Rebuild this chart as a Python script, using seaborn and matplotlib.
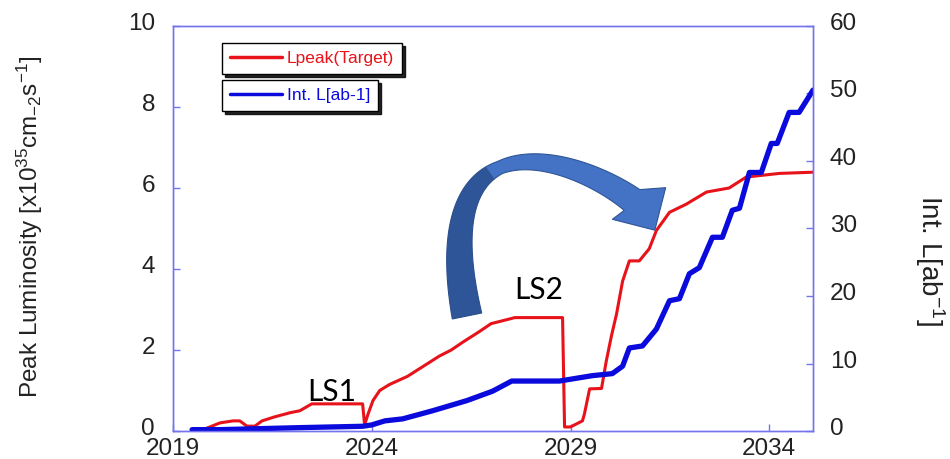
import numpy as np
import pandas as pd
import matplotlib
matplotlib.use("Agg")
import matplotlib.pyplot as plt
import matplotlib.transforms as mtransforms
import seaborn as sns
from matplotlib.lines import Line2D
from matplotlib.patches import Polygon

# Peak luminosity target [x10^35 cm^-2 s^-1]
peak_year = [2019.48, 2019.80, 2020.18, 2020.51, 2020.68, 2020.86, 2021.06, 2021.24,
             2021.56, 2021.94, 2022.19, 2022.49, 2023.77, 2023.82, 2023.90, 2024.03,
             2024.20, 2024.45, 2024.90, 2025.30, 2025.70, 2026.00, 2026.30, 2026.70,
             2027.00, 2027.40, 2027.60, 2028.80, 2028.85, 2029.00, 2029.30, 2029.35,
             2029.48, 2029.78, 2029.90, 2030.03, 2030.16, 2030.31, 2030.48, 2030.73,
             2030.98, 2031.16, 2031.49, 2031.91, 2032.42, 2032.99, 2033.42, 2034.25,
             2035.10]
peak_lumi = [0.00, 0.05, 0.20, 0.25, 0.25, 0.12, 0.12, 0.25,
             0.35, 0.45, 0.50, 0.67, 0.67, 0.15, 0.40, 0.75,
             1.00, 1.15, 1.35, 1.60, 1.85, 2.00, 2.20, 2.45,
             2.65, 2.75, 2.80, 2.80, 0.10, 0.10, 0.25, 0.42,
             1.04, 1.05, 1.73, 2.35, 2.90, 3.70, 4.20, 4.20,
             4.50, 4.95, 5.40, 5.60, 5.90, 6.00, 6.27, 6.36,
             6.39]

# Integrated luminosity [ab^-1]
int_year = [2019.48, 2020.18, 2022.20, 2023.77, 2024.00, 2024.33, 2024.78, 2025.53,
            2026.39, 2027.04, 2027.52, 2028.72, 2029.55, 2030.05, 2030.31, 2030.48,
            2030.81, 2031.16, 2031.49, 2031.74, 2031.99, 2032.24, 2032.57, 2032.82,
            2033.07, 2033.25, 2033.50, 2033.80, 2034.05, 2034.20, 2034.50, 2034.75,
            2035.10]
int_lumi = [0.2, 0.2, 0.5, 0.7, 0.9, 1.5, 1.8, 3.0,
            4.5, 5.9, 7.4, 7.4, 8.2, 8.5, 9.6, 12.3,
            12.6, 15.1, 19.3, 19.6, 23.3, 24.2, 28.7, 28.7,
            32.7, 33.0, 38.3, 38.3, 42.6, 42.6, 47.2, 47.2,
            50.5]

year_ticks = [2019, 2024, 2029, 2034]
peak_ticks = [0, 2, 4, 6, 8, 10]
int_ticks = [0, 10, 20, 30, 40, 50, 60]

RED = "#E8121A"
BLUE = "#0A0ADC"
FRAME = "#7474EE"
TXT = "#222222"

sns.set_theme(style="white")
plt.rcParams["font.family"] = ["Liberation Sans", "DejaVu Sans"]
plt.rcParams["mathtext.default"] = "regular"

fig = plt.figure(figsize=(9.5, 4.59), dpi=100)
ax = fig.add_axes([173 / 950, 1 - 431 / 459, 640 / 950, 405 / 459])
ax2 = ax.twinx()

peak_df = pd.DataFrame({"year": peak_year, "lumi": peak_lumi})
int_df = pd.DataFrame({"year": int_year, "lumi": int_lumi})

sns.lineplot(data=peak_df, x="year", y="lumi", ax=ax, color=RED, linewidth=2.2,
             sort=False, estimator=None)
sns.lineplot(data=int_df, x="year", y="lumi", ax=ax2, color=BLUE, linewidth=3.8,
             sort=False, estimator=None)

ax.set_xlim(2019, 2035.1)
ax.set_ylim(0, 10)
ax2.set_ylim(0, 60)
ax.set_xticks(year_ticks)
ax.set_yticks(peak_ticks)
ax2.set_yticks(int_ticks)
ax.set_xlabel("")

for a in (ax, ax2):
    for sp in a.spines.values():
        sp.set_color(FRAME)
        sp.set_linewidth(1.0)
        sp.set_visible(True)

ax.tick_params(axis="y", direction="in", length=5, width=1, color=FRAME,
               labelsize=17.5, labelcolor=TXT, pad=13, left=True)
ax.tick_params(axis="x", direction="in", length=5, width=1, color=FRAME,
               labelsize=17.5, labelcolor=TXT, pad=5, bottom=True)
ax2.tick_params(axis="y", direction="in", length=5, width=1, color=FRAME,
                labelsize=17.5, labelcolor=TXT, pad=12, right=True)

# y tick labels sit slightly above their ticks
lift = mtransforms.ScaledTranslation(0, 0.045, fig.dpi_scale_trans)
for lab in ax.get_yticklabels() + ax2.get_yticklabels():
    lab.set_transform(lab.get_transform() + lift)

ax.set_ylabel(r"Peak Luminosity [x10$^{35}$cm$_{-2}$s$^{-1}$]", fontsize=17.5,
              color=TXT)
ax.yaxis.set_label_coords(-0.2234, 0.505)
ax.yaxis.label.set_verticalalignment("center")

ax2.set_ylabel(r"Int. L[ab$^{-1}$]", fontsize=20, color=TXT, rotation=-90)
ax2.yaxis.set_label_coords(1.183, 0.42)
ax2.yaxis.label.set_verticalalignment("center")

# Long shutdown labels
ax2.text(2023.0, 0.97, "LS1", transform=ax.transData, ha="center", va="center",
         fontsize=21.5, family=["Lato", "DejaVu Sans"], color="black")
ax2.text(2028.2, 3.49, "LS2", transform=ax.transData, ha="center", va="center",
         fontsize=21.5, family=["Lato", "DejaVu Sans"], color="black")

# Legends: two stacked boxes with drop shadows
leg_kw = dict(frameon=True, fancybox=False, shadow={"color": "black", "alpha": 0.85},
              fontsize=12.5, handlelength=3.0, handletextpad=0.3, borderpad=0.45,
              loc="upper left", bbox_transform=fig.transFigure, borderaxespad=0,
              labelcolor="linecolor")
leg1 = fig.legend([Line2D([], [], color=RED, lw=2.5)], ["Lpeak(Target)"],
                  bbox_to_anchor=(222 / 950, 1 - 43 / 459), **leg_kw)
leg2 = fig.legend([Line2D([], [], color=BLUE, lw=2.5)], ["Int. L[ab-1]"],
                  bbox_to_anchor=(222 / 950, 1 - 80 / 459), **leg_kw)
for lg in (leg1, leg2):
    lg.get_frame().set_edgecolor("black")
    lg.get_frame().set_linewidth(1.0)

# Curved arrow (pixel geometry, top-left origin)
ctrl = np.array([[467, 316], [425, 110], [572, 155], [632, 200]], float)
head_base = np.array([639, 203.5])
head_dir = np.array([0.51, 0.86])


def bez(t):
    t = np.asarray(t)[:, None]
    return ((1 - t) ** 3 * ctrl[0] + 3 * (1 - t) ** 2 * t * ctrl[1]
            + 3 * (1 - t) * t ** 2 * ctrl[2] + t ** 3 * ctrl[3])


def bez_d(t):
    t = np.asarray(t)[:, None]
    return (3 * (1 - t) ** 2 * (ctrl[1] - ctrl[0]) + 6 * (1 - t) * t * (ctrl[2] - ctrl[1])
            + 3 * t ** 2 * (ctrl[3] - ctrl[2]))


def band(t0, t1, n=60):
    t = np.linspace(t0, t1, n)
    c = bez(t)
    d = bez_d(t)
    d = d / np.linalg.norm(d, axis=1)[:, None]
    nrm = np.column_stack([-d[:, 1], d[:, 0]])
    w = np.interp(t, [0, 0.45, 1], [30, 13, 26])[:, None]
    return c + nrm * w / 2, c - nrm * w / 2


def to_fig(p):
    p = np.asarray(p, float)
    return np.column_stack([p[:, 0] / 950, 1 - p[:, 1] / 459])


ts = 0.40
l1, r1 = band(0, ts)
dark = np.vstack([l1, r1[::-1]])
l2, r2 = band(ts, 1)
hd = head_dir / np.linalg.norm(head_dir)
nh = np.array([-hd[1], hd[0]])
tip = head_base + hd * 31
w_low = head_base + nh * 31
w_up = head_base - nh * 31
light = np.vstack([l2, [w_low], [tip], [w_up], r2[::-1]])

fig.add_artist(Polygon(to_fig(dark), closed=True, transform=fig.transFigure,
                       facecolor="#2E5597", edgecolor="#2A4F8C", lw=0.8, zorder=10))
fig.add_artist(Polygon(to_fig(light), closed=True, transform=fig.transFigure,
                       facecolor="#4472C4", edgecolor="#2F5597", lw=0.8, zorder=10))

fig.savefig("out.png", dpi=100)
